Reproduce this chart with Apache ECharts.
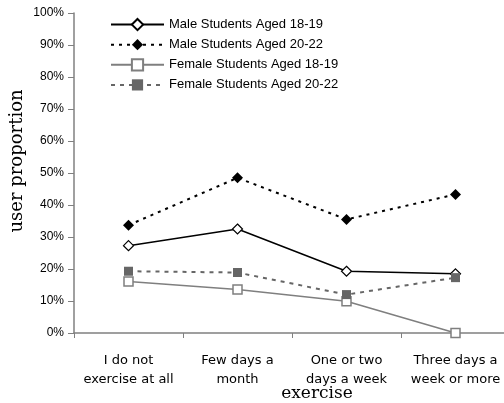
<!DOCTYPE html>
<html>
<head>
<meta charset="utf-8">
<script src="https://cdn.jsdelivr.net/npm/echarts@6/dist/echarts.min.js"></script>
<style>html,body{margin:0;padding:0;background:#fff}#c{width:504px;height:403px}</style>
</head>
<body>
<div id="c"></div>
<script>
var categories = ['I do not\nexercise at all', 'Few days a\nmonth', 'One or two\ndays a week', 'Three days a\nweek or more'];
var seriesNames = ['Male Students Aged 18-19', 'Male Students Aged 20-22', 'Female Students Aged 18-19', 'Female Students Aged 20-22'];
var male1819 = [27.3, 32.5, 19.3, 18.5];
var male2022 = [33.7, 48.5, 35.5, 43.3];
var female1819 = [16.1, 13.6, 9.9, 0];
var female2022 = [19.3, 18.9, 12.0, 17.3];
var yTicks = [0, 10, 20, 30, 40, 50, 60, 70, 80, 90, 100];

var chart = echarts.init(document.getElementById('c'), null, {renderer: 'canvas'});
var labelFont = '"Liberation Sans", Arial, sans-serif';
var catFont = '"DejaVu Sans", "Liberation Sans", sans-serif';
var serifFont = '"DejaVu Serif", "Liberation Serif", serif';
chart.setOption({
  animation: false,
  backgroundColor: '#fff',
  grid: {left: 74, top: 13, right: -6, bottom: 70, containLabel: false, outerBoundsMode: 'none'},
  legend: {
    orient: 'vertical', left: 105, top: 13,
    itemWidth: 53, itemHeight: 14, itemGap: 7,
    data: seriesNames,
    textStyle: {fontFamily: labelFont, fontSize: 13, color: '#000'}
  },
  xAxis: {
    type: 'category', data: categories, boundaryGap: true,
    axisLine: {lineStyle: {color: '#808080', width: 1.5}},
    axisTick: {show: true, length: 5, lineStyle: {color: '#808080'}},
    axisLabel: {fontFamily: catFont, fontSize: 13, color: '#000', margin: 18, lineHeight: 19, interval: 0},
    name: 'exercise', nameLocation: 'middle', nameGap: 52, nameMoveOverlap: false,
    nameTextStyle: {fontFamily: serifFont, fontSize: 17, color: '#000', padding: [0, 0, 0, 50]}
  },
  yAxis: {
    type: 'value', min: 0, max: 100, interval: 10,
    axisLine: {show: true, lineStyle: {color: '#808080', width: 1.5}},
    axisTick: {show: true, length: 6, lineStyle: {color: '#808080'}},
    splitLine: {show: false},
    axisLabel: {fontFamily: labelFont, fontSize: 12, color: '#000', margin: 10,
      formatter: function (v) { return yTicks.indexOf(v) >= 0 ? v + '%' : ''; }},
    name: 'user proportion', nameLocation: 'middle', nameGap: 48, nameRotate: 90, nameMoveOverlap: false,
    nameTextStyle: {fontFamily: serifFont, fontSize: 18, color: '#000', padding: [0, 0, 0, 24]}
  },
  series: [
    {name: seriesNames[0], type: 'line', data: male1819, symbol: 'diamond', symbolSize: 10,
      lineStyle: {color: '#000', width: 1.5, type: 'solid'},
      itemStyle: {color: '#fff', borderColor: '#000', borderWidth: 1.2}},
    {name: seriesNames[1], type: 'line', data: male2022, symbol: 'diamond', symbolSize: 11,
      lineStyle: {color: '#000', width: 2, type: [3, 5]},
      itemStyle: {color: '#000', borderColor: '#000', borderWidth: 0}},
    {name: seriesNames[2], type: 'line', data: female1819, symbol: 'rect', symbolSize: 9,
      lineStyle: {color: '#7f7f7f', width: 1.5, type: 'solid'},
      itemStyle: {color: '#fff', borderColor: '#7f7f7f', borderWidth: 1.5}},
    {name: seriesNames[3], type: 'line', data: female2022, symbol: 'rect', symbolSize: 9,
      lineStyle: {color: '#666', width: 2, type: [4, 5]},
      itemStyle: {color: '#666', borderColor: '#666', borderWidth: 0}}
  ]
});
</script>
</body>
</html>
